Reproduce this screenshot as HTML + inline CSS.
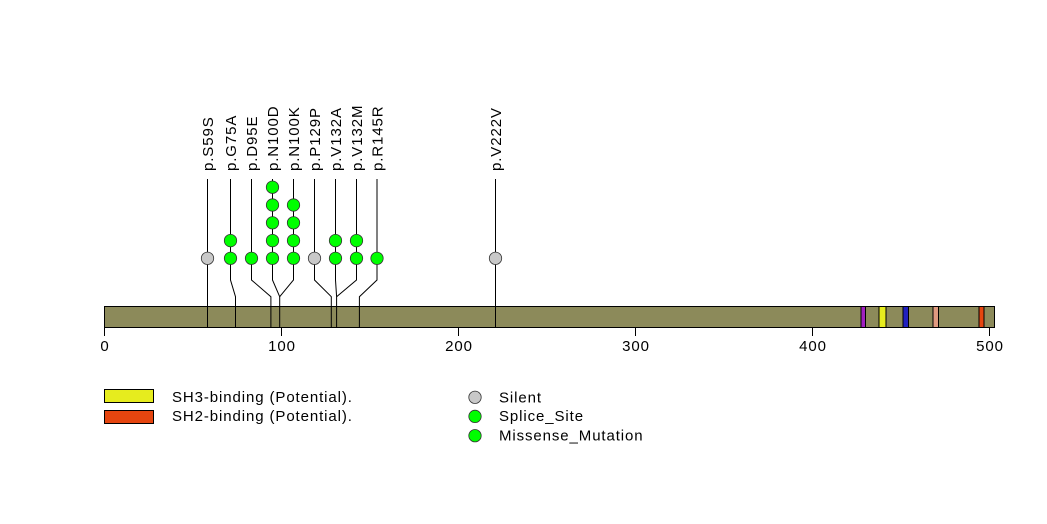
<!DOCTYPE html>
<html><head><meta charset="utf-8"><style>
html,body{margin:0;padding:0;background:#fff;}
svg{display:block;}
text{font-family:"Liberation Sans",Arial,sans-serif;font-size:15px;letter-spacing:0.9px;fill:#000;}
</style></head><body>
<svg width="1047" height="524" viewBox="0 0 1047 524" xmlns="http://www.w3.org/2000/svg">
<rect x="0" y="0" width="1047" height="524" fill="#fff"/>
<!-- bar -->
<rect x="104.5" y="306.5" width="890" height="21" fill="#8C8A5A" stroke="#000" stroke-width="1"/>
<g stroke="#000" stroke-width="1">
<rect x="861" y="306.5" width="4.5" height="21" fill="#A020C0"/>
<rect x="879" y="306.5" width="7" height="21" fill="#E6EC1E"/>
<rect x="903" y="306.5" width="5.5" height="21" fill="#2020C0"/>
<rect x="933" y="306.5" width="5.5" height="21" fill="#E09A80"/>
<rect x="979" y="306.5" width="5" height="21" fill="#E5450F"/>
</g>
<!-- ticks -->
<g stroke="#000" stroke-width="1">
<line x1="104.5" y1="327" x2="104.5" y2="336"/>
<line x1="281.5" y1="327" x2="281.5" y2="336"/>
<line x1="458.5" y1="327" x2="458.5" y2="336"/>
<line x1="635.5" y1="327" x2="635.5" y2="336"/>
<line x1="812.5" y1="327" x2="812.5" y2="336"/>
<line x1="989.5" y1="327" x2="989.5" y2="336"/>
</g>
<g text-anchor="middle">
<text x="105" y="351">0</text>
<text x="282" y="351">100</text>
<text x="459" y="351">200</text>
<text x="636" y="351">300</text>
<text x="813" y="351">400</text>
<text x="990" y="351">500</text>
</g>
<!-- connectors -->
<g stroke="#000" stroke-width="1" fill="none">
<polyline points="207.5,179 207.5,327"/>
<polyline points="230.5,179 230.5,280 235.5,296.7 235.5,327"/>
<polyline points="251.5,179 251.5,280 270.9,296.7 270.9,327"/>
<polyline points="272.5,179 272.5,280 279.7,296.7 279.7,327"/>
<polyline points="293.5,179 293.5,280 279.7,296.7"/>
<polyline points="314.5,179 314.5,280 331.3,296.7 331.3,327"/>
<polyline points="335.5,179 335.5,280 336.6,296.7 336.6,327"/>
<polyline points="356.5,179 356.5,280 336.6,296.7"/>
<polyline points="377,179 377,280 359.4,296.7 359.4,327"/>
<polyline points="495.5,179 495.5,327"/>
</g>
<!-- dots -->
<g stroke="#333" stroke-width="0.8">
<circle cx="207.5" cy="258.3" r="6.2" fill="#C8C8C8"/>
<circle cx="230.5" cy="258.3" r="6.2" fill="#00FF00"/>
<circle cx="230.5" cy="240.6" r="6.2" fill="#00FF00"/>
<circle cx="251.5" cy="258.3" r="6.2" fill="#00FF00"/>
<circle cx="272.5" cy="258.3" r="6.2" fill="#00FF00"/>
<circle cx="272.5" cy="240.6" r="6.2" fill="#00FF00"/>
<circle cx="272.5" cy="222.8" r="6.2" fill="#00FF00"/>
<circle cx="272.5" cy="205" r="6.2" fill="#00FF00"/>
<circle cx="272.5" cy="187.2" r="6.2" fill="#00FF00"/>
<circle cx="293.5" cy="258.3" r="6.2" fill="#00FF00"/>
<circle cx="293.5" cy="240.6" r="6.2" fill="#00FF00"/>
<circle cx="293.5" cy="222.8" r="6.2" fill="#00FF00"/>
<circle cx="293.5" cy="205" r="6.2" fill="#00FF00"/>
<circle cx="314.5" cy="258.3" r="6.2" fill="#C8C8C8"/>
<circle cx="335.5" cy="258.3" r="6.2" fill="#00FF00"/>
<circle cx="335.5" cy="240.6" r="6.2" fill="#00FF00"/>
<circle cx="356.5" cy="258.3" r="6.2" fill="#00FF00"/>
<circle cx="356.5" cy="240.6" r="6.2" fill="#00FF00"/>
<circle cx="377" cy="258.3" r="6.2" fill="#00FF00"/>
<circle cx="495.5" cy="258.3" r="6.2" fill="#C8C8C8"/>
</g>
<!-- labels -->
<g>
<text transform="translate(213,171) rotate(-90)">p.S59S</text>
<text transform="translate(236,171) rotate(-90)">p.G75A</text>
<text transform="translate(257,171) rotate(-90)">p.D95E</text>
<text transform="translate(278,171) rotate(-90)">p.N100D</text>
<text transform="translate(299,171) rotate(-90)">p.N100K</text>
<text transform="translate(320,171) rotate(-90)">p.P129P</text>
<text transform="translate(341,171) rotate(-90)">p.V132A</text>
<text transform="translate(362,171) rotate(-90)">p.V132M</text>
<text transform="translate(382.5,171) rotate(-90)">p.R145R</text>
<text transform="translate(501,171) rotate(-90)">p.V222V</text>
</g>
<!-- legend -->
<rect x="104.5" y="389.5" width="49" height="13" fill="#E6EC1E" stroke="#000" stroke-width="1"/>
<rect x="104.5" y="410.5" width="49" height="13" fill="#E5450F" stroke="#000" stroke-width="1"/>
<text x="172" y="402">SH3-binding (Potential).</text>
<text x="172" y="421">SH2-binding (Potential).</text>
<g stroke="#333" stroke-width="0.8">
<circle cx="475" cy="397.3" r="6.2" fill="#C8C8C8"/>
<circle cx="475" cy="416.4" r="6.2" fill="#00FF00"/>
<circle cx="475" cy="435.7" r="6.2" fill="#00FF00"/>
</g>
<text x="499" y="402.3">Silent</text>
<text x="499" y="421">Splice_Site</text>
<text x="499" y="440.3">Missense_Mutation</text>
</svg>
</body></html>
